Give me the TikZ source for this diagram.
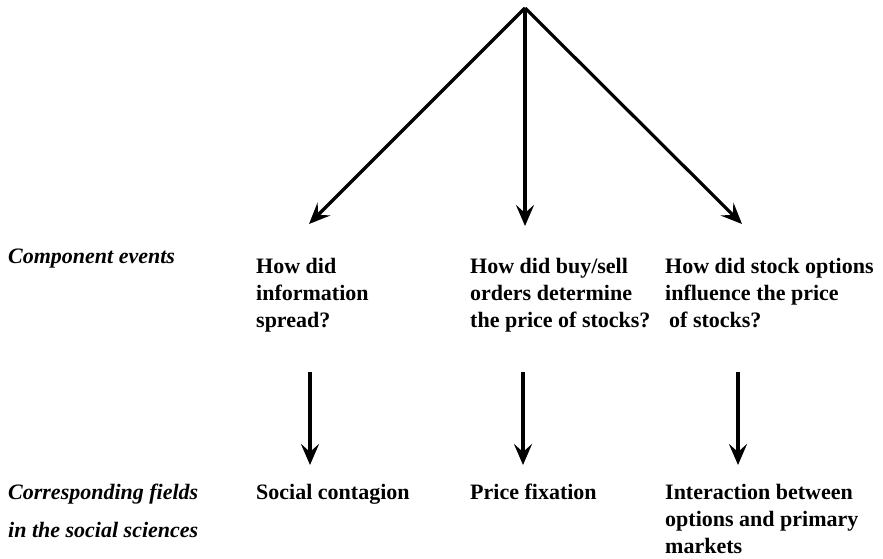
\documentclass[tikz,border=0pt]{standalone}
\usepackage{fontspec}
\setmainfont{Liberation Serif}
\usepackage{tikz}
\usetikzlibrary{positioning, arrows.meta}
\tikzset{
    question/.style={anchor=base west, inner sep=0pt, align=left,
        font=\fontsize{22}{27}\selectfont\bfseries},
    field/.style={anchor=base west, inner sep=0pt, align=left,
        font=\fontsize{22}{27}\selectfont\bfseries},
    rowlabel/.style={anchor=base west, inner sep=0pt, align=left,
        font=\fontsize{22}{27}\selectfont\bfseries\itshape},
    bigarrow/.style={line width=3.2pt, -{Stealth[length=21pt, width=18pt, inset=8pt]}},
}

\begin{document}
\begin{tikzpicture}[%
        x=1pt, y=-1pt,
    ]
    \useasboundingbox (0,0) rectangle (883,559);

    % top point and arrow ends
    \coordinate (top) at (525,8);
    \coordinate (endA) at (309,224);
    \coordinate (endB) at (525,226);
    \coordinate (endC) at (742,224);

    % draw the three arrows from the top
    \draw[bigarrow] (top) -- (endA);
    \draw[bigarrow] (top) -- (endB);
    \draw[bigarrow] (top) -- (endC);

    % row labels
    \node[rowlabel] (events) at (8,263) {Component events};
    \node[rowlabel] (fields) at (8,499) {Corresponding fields};
    \node[rowlabel] (social) at (8,537) {in the social sciences};

    % component events (base is the last line)
    \node[question] (infoQ) at (256,327) {How did\\information\\spread?};
    \node[question] (orderQ) at (470,327) {How did buy/sell\\orders determine\\the price of stocks?};
    \node[question] (optionQ) at (665,327) {How did stock options\\influence the price\\\hspace{4pt}of stocks?};

    % corresponding fields
    \node[field] (contagion) at (256,499) {Social contagion};
    \node[field] (fixation) at (470,499) {Price fixation};
    \node[field] (markets) at (665,553) {Interaction between\\options and primary\\markets};

    % arrows from events to fields
    \coordinate (startA) at (310,372);
    \coordinate (startB) at (523,372);
    \coordinate (startC) at (738,372);
    \draw[bigarrow] (startA) -- (startA |- 0,465);
    \draw[bigarrow] (startB) -- (startB |- 0,465);
    \draw[bigarrow] (startC) -- (startC |- 0,465);
\end{tikzpicture}
\end{document}
